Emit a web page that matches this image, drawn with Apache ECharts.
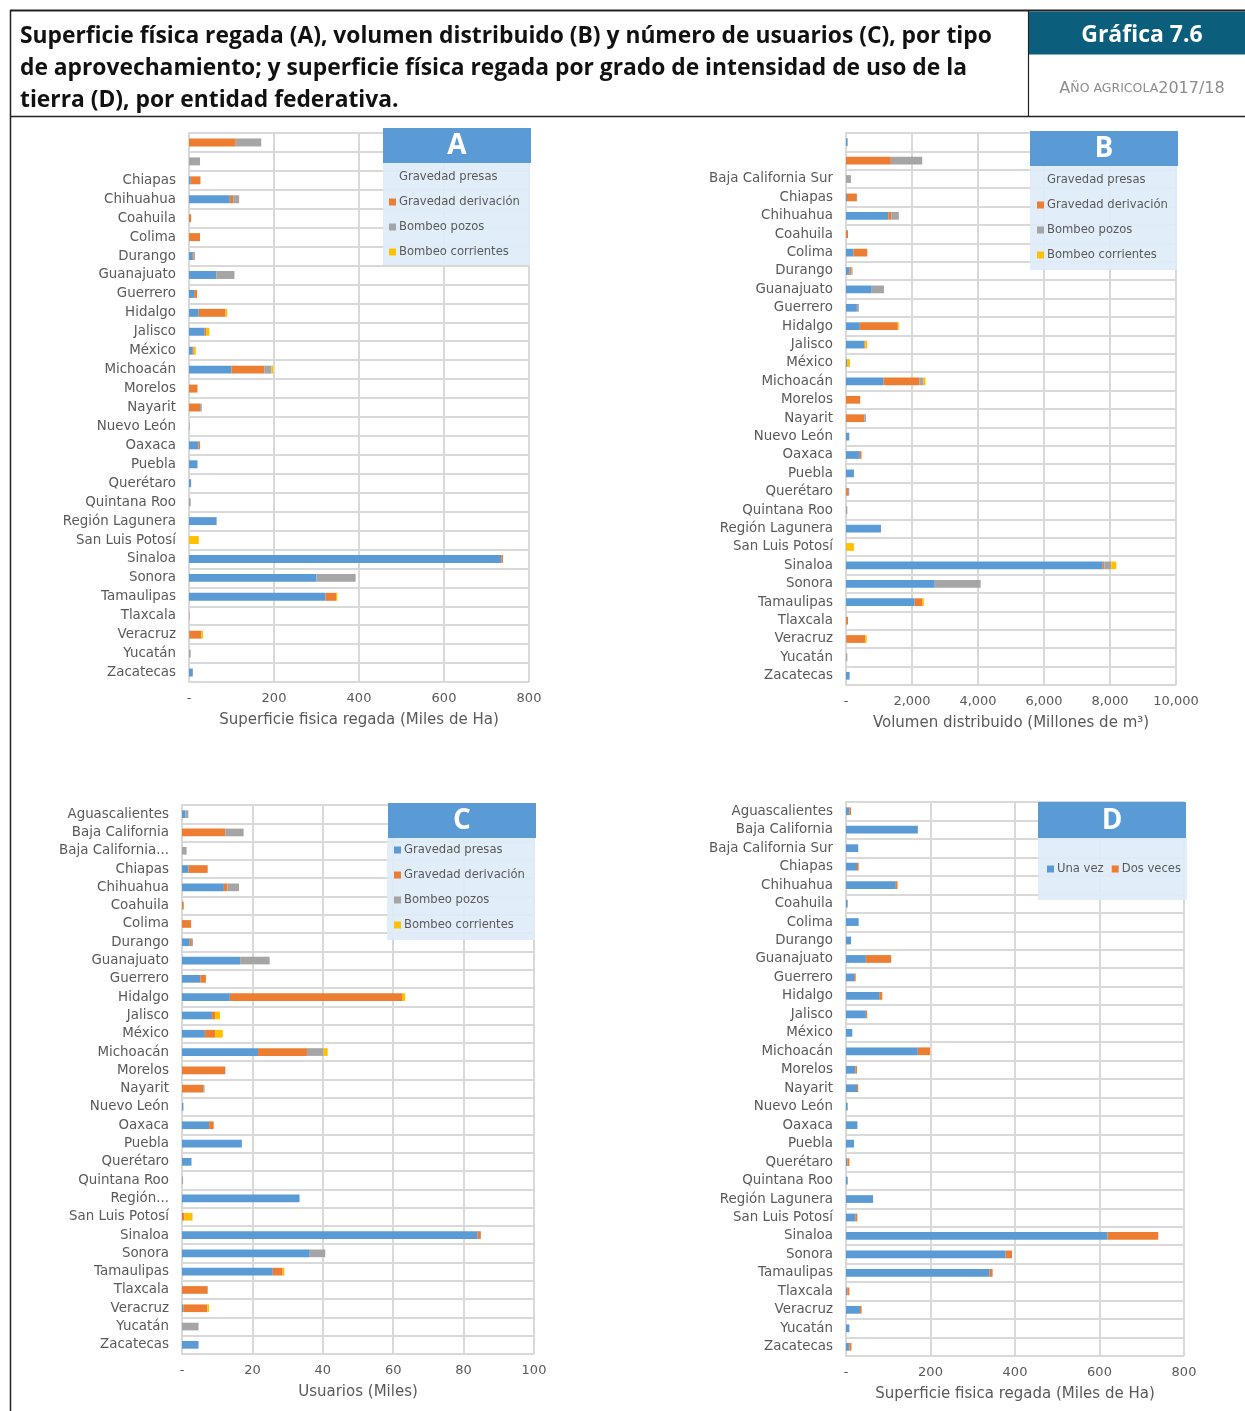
<!DOCTYPE html>
<html><head><meta charset="utf-8">
<script src="https://cdn.jsdelivr.net/npm/echarts@6/dist/echarts.min.js"></script>
<style>html,body{margin:0;padding:0;background:#fff}#c{width:1245px;height:1411px}</style>
</head><body><div id="c"></div>
<script>
// ---------- DATA ----------
const estados = ['Aguascalientes','Baja California','Baja California Sur','Chiapas','Chihuahua','Coahuila','Colima','Durango','Guanajuato','Guerrero','Hidalgo','Jalisco','México','Michoacán','Morelos','Nayarit','Nuevo León','Oaxaca','Puebla','Querétaro','Quintana Roo','Región Lagunera','San Luis Potosí','Sinaloa','Sonora','Tamaulipas','Tlaxcala','Veracruz','Yucatán','Zacatecas'];
const estadosA = estados.slice(1);
const tiposAprovechamiento = ['Gravedad presas','Gravedad derivación','Bombeo pozos','Bombeo corrientes'];
const intensidad = ['Una vez','Dos veces'];

// A: Superficie física regada (Miles de Ha)
const A_presas      = [0,0,4,96,0,0,9,64,12,23,37,9,100,0,0,1,22,20,5,0,65,0,735,300,321,0,1,0,9];
const A_derivacion  = [110,0,23,8,5,26,2,0,7,63,3,2,77,20,26,0,4,0,0,0,0,0,4,0,25,1,28,0,0];
const A_pozos       = [60,26,0,14,0,0,3,43,0,0,0,0,17,0,4,0,0,0,0,4,0,0,0,92,0,0,0,4,0];
const A_corrientes  = [0,0,0,0,0,0,0,0,0,4,8,5,4,0,0,0,0,0,0,0,0,23,0,0,3,0,4,0,0];

// B: Volumen distribuido (Millones de m3)
const B_presas      = [50,0,0,30,1280,0,230,110,780,330,420,560,30,1140,0,0,100,420,240,0,0,1060,0,7780,2690,2080,0,10,0,110];
const B_derivacion  = [0,1360,0,300,90,60,415,50,0,0,1150,25,0,1090,430,555,0,50,0,60,0,0,0,50,0,230,60,570,0,0];
const B_pozos       = [0,950,150,0,230,0,0,40,370,60,0,0,0,120,0,50,0,0,0,40,40,0,0,210,1390,0,0,0,40,0];
const B_corrientes  = [0,0,0,0,0,0,0,0,0,0,30,60,90,60,0,0,0,0,0,0,0,0,240,150,0,50,0,50,0,0];

// C: Usuarios (Miles)
const C_presas      = [1.0,0,0,1.8,11.9,0,0,2.2,16.5,5.2,13.6,8.5,6.5,21.6,0,0,0.4,7.7,17.0,2.7,0,33.4,0,84.0,36.3,25.8,0,0.4,0,4.7];
const C_derivacion  = [0,12.3,0,5.5,1.0,0.5,2.6,0.6,0,1.6,48.9,0.9,2.9,13.9,12.3,6.0,0,1.3,0,0,0,0,0.7,0.9,0,2.8,7.3,6.8,0,0];
const C_pozos       = [0.8,5.2,1.3,0,3.3,0,0,0.3,8.4,0,0,0,0,4.7,0,0.4,0,0,0,0,0.3,0,0,0,4.4,0,0,0,4.7,0];
const C_corrientes  = [0,0,0,0,0,0,0,0,0,0,0.9,1.4,2.2,1.2,0,0,0,0,0,0,0,0,2.3,0,0,0.5,0,0.5,0,0];

// D: Superficie física regada por intensidad de uso (Miles de Ha)
const D_unaVez      = [8,170,29,26,118,4,30,12,47,19,80,47,15,170,22,26,4,27,19,3,4,64,23,619,378,340,3,33,8,8];
const D_dosVeces    = [4,0,0,4,4,0,0,0,60,4,6,3,0,29,4,3,0,0,0,5,0,0,4,120,15,7,5,4,0,5];

const ticksA = [0,200,400,600,800];
const ticksB = [0,2000,4000,6000,8000,10000];
const ticksC = [0,20,40,60,80,100];
const ticksD = [0,200,400,600,800];

// ---------- STYLE ----------
const COL = ['#5B9BD5','#ED7D31','#A5A5A5','#FFC000'];
const GRID = '#D9D9D9';
const TXT = '#595959';
const FONT = 'DejaVu Sans';
const TFONT = 'Open Sans';

const grids = [
  {left:189, top:133, width:340, height:549},
  {left:846, top:133, width:330, height:552},
  {left:182, top:805, width:352, height:549},
  {left:846, top:802, width:338, height:554}
];
const fmtTick = v => v === 0 ? '-' : v.toLocaleString('en-US');
function xAx(i, ticks, name){
  return {gridIndex:i, type:'value', min:ticks[0], max:ticks[ticks.length-1], interval:ticks[1]-ticks[0],
    axisLine:{show:false}, axisTick:{show:false},
    splitLine:{show:true, lineStyle:{color:GRID, width:2}},
    axisLabel:{formatter:fmtTick, color:TXT, fontSize:13, fontFamily:FONT, margin:10},
    name:name, nameLocation:'middle', nameGap:31,
    nameTextStyle:{color:TXT, fontSize:15, fontFamily:FONT}};
}
const truncC = {'Baja California Sur':'Baja California...','Región Lagunera':'Región...'};
function yAx(i, cats, fmt){
  return {gridIndex:i, type:'category', data:cats, inverse:true,
    axisLine:{show:true, lineStyle:{color:GRID, width:2}}, axisTick:{show:false},
    splitLine:{show:true, lineStyle:{color:GRID, width:2}},
    axisLabel:{interval:0, color:TXT, fontSize:13.4, fontFamily:FONT, margin:13, formatter:fmt}};
}
function bars(i, names, arrs, stack){
  return arrs.map((d,k)=>({type:'bar', name:names[k], stack:stack, xAxisIndex:i, yAxisIndex:i,
    data:d, barWidth:'42%', itemStyle:{color:COL[k]}, emphasis:{disabled:true}}));
}
function legend(left, top, names, hideFirst, horiz){
  return {left:left, top:top, orient: horiz ? 'horizontal':'vertical', padding:0, z:20,
    itemWidth:7, itemHeight:7, itemGap: horiz ? 8 : 11, icon:'rect', selectedMode:false,
    textStyle:{color:TXT, fontSize:11.6, fontFamily:FONT, lineHeight:14, padding:[0,0,0,-2]},
    data: names.map((n,k)=> (hideFirst && k===0) ? {name:n, itemStyle:{opacity:0}} : {name:n})};
}
function box(x,y,w,h,letter,lx,ly,lw,lh){
  return [
    {type:'rect', shape:{x:x,y:y,width:w,height:h}, style:{fill:'#5B9BD5'}, z:10},
    {type:'text', x:x+w/2, y:y+h/2+1, style:{text:letter, fill:'#fff', font:'bold 28px '+TFONT, textAlign:'center', textVerticalAlign:'middle'}, z:11},
    {type:'rect', shape:{x:lx,y:ly,width:lw,height:lh}, style:{fill:'rgba(222,235,247,0.9)'}, z:10}
  ];
}

const graphics = [
  {type:'line', shape:{x1:10,y1:10.5,x2:1245,y2:10.5}, style:{stroke:'#222',lineWidth:2}},
  {type:'line', shape:{x1:10,y1:116.5,x2:1245,y2:116.5}, style:{stroke:'#222',lineWidth:1.5}},
  {type:'line', shape:{x1:10.5,y1:10,x2:10.5,y2:1411}, style:{stroke:'#222',lineWidth:1.5}},
  {type:'line', shape:{x1:1028.5,y1:10,x2:1028.5,y2:116}, style:{stroke:'#222',lineWidth:1.2}},
  {type:'rect', shape:{x:1029,y:11.5,width:216,height:43}, style:{fill:'#0B5E7C'}},
  {type:'text', x:1142, y:35, style:{text:'Gráfica 7.6', fill:'#fff', font:'bold 23px '+TFONT, textAlign:'center', textVerticalAlign:'middle'}},
  {type:'text', x:1142, y:89, style:{text:'{a|A}{b|ÑO AGRICOLA}{a|2017/18}', textAlign:'center', textVerticalAlign:'middle',
     rich:{a:{fill:'#8C8C8C', font:'16px '+FONT}, b:{fill:'#8C8C8C', font:'12.5px '+FONT}}}},
  {type:'text', x:20, y:36.5, style:{text:'Superficie física regada (A), volumen distribuido (B) y número de usuarios (C), por tipo', fill:'#111', font:'bold 22.8px '+TFONT, textVerticalAlign:'middle'}},
  {type:'text', x:20, y:68.5, style:{text:'de aprovechamiento; y superficie física regada por grado de intensidad de uso de la', fill:'#111', font:'bold 22.8px '+TFONT, textVerticalAlign:'middle'}},
  {type:'text', x:20, y:100.5, style:{text:'tierra (D), por entidad federativa.', fill:'#111', font:'bold 22.8px '+TFONT, textVerticalAlign:'middle'}},
  ...box(383,128,148,35,'A',383,163,147,102),
  ...box(1030,131,148,35,'B',1030,166,147,104),
  ...box(388,803,148,35,'C',387,838,148,102),
  ...box(1038,802,148,36,'D',1038,838,149,62)
];

const option = {
  backgroundColor:'#fff', animation:false,
  grid: grids,
  xAxis: [xAx(0,ticksA,'Superficie fisica regada (Miles de Ha)'), xAx(1,ticksB,'Volumen distribuido (Millones de m³)'),
          xAx(2,ticksC,'Usuarios (Miles)'), xAx(3,ticksD,'Superficie fisica regada (Miles de Ha)')],
  yAxis: [yAx(0,estadosA,(v,i)=> i<2 ? '' : v), yAx(1,estados,(v,i)=> i<2 ? '' : v),
          yAx(2,estados,v=> truncC[v] || v), yAx(3,estados,v=>v)],
  legend: [legend(389,170,tiposAprovechamiento,true,false), legend(1037,173,tiposAprovechamiento,true,false),
           legend(394,843,tiposAprovechamiento,false,false), legend(1047,862,intensidad,false,true)],
  series: [
    ...bars(0,tiposAprovechamiento,[A_presas,A_derivacion,A_pozos,A_corrientes],'A'),
    ...bars(1,tiposAprovechamiento,[B_presas,B_derivacion,B_pozos,B_corrientes],'B'),
    ...bars(2,tiposAprovechamiento,[C_presas,C_derivacion,C_pozos,C_corrientes],'C'),
    ...bars(3,intensidad,[D_unaVez,D_dosVeces],'D')
  ],
  graphic: graphics
};
const chart = echarts.init(document.getElementById('c'), null, {renderer:'canvas'});
chart.setOption(option);
</script></body></html>
